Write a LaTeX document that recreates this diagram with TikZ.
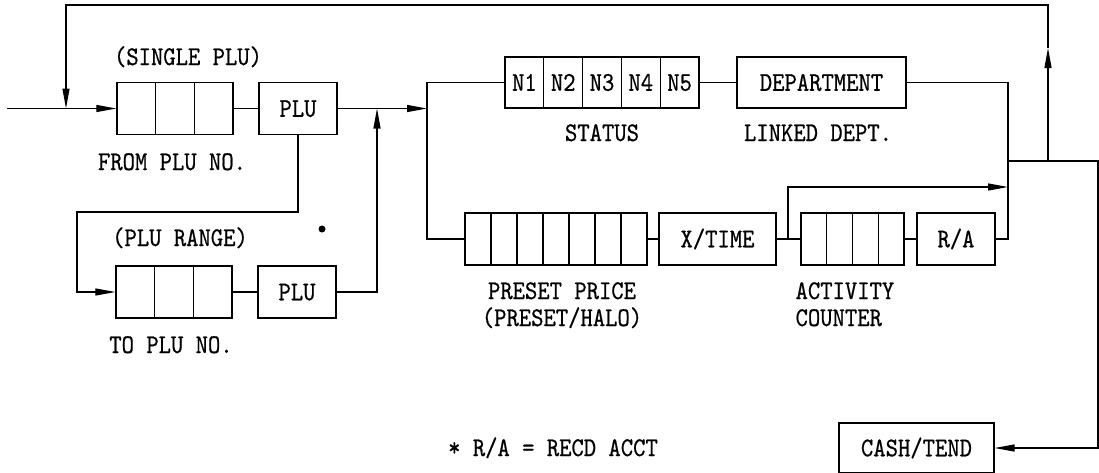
\documentclass[tikz,border=0pt]{standalone}
\usepackage{fontspec}
\setmonofont{lmmono10-regular.otf}[FakeStretch=0.87,FakeBold=0.6]
\usetikzlibrary{arrows.meta}
\begin{document}
\begin{tikzpicture}[x=1pt,y=-1pt,line width=1.2pt,
  txt/.style={font=\ttfamily\fontsize{27}{27}\selectfont},
  bx/.style={draw,txt,inner sep=0pt,minimum height=52pt,text height=16.5pt,text depth=0pt},
  cell/.style={bx,minimum width=#1},
  lbl/.style={txt,inner sep=0pt,anchor=base},
  arr/.style={-{Triangle[length=20pt,width=7pt]}}]
\clip (0,0) rectangle (1099,472);
% single PLU row
\node[cell=38.67pt] (s1) at (136.33,108.5) {};
\node[cell=38.67pt] (s2) at (175,108.5) {};
\node[cell=38.67pt] (s3) at (213.67,108.5) {};
\node[cell=78pt] (p1) at (298,108.5) {PLU};
% PLU range row
\node[cell=38.67pt] (r1) at (135.33,292) {};
\node[cell=38.67pt] (r2) at (174,292) {};
\node[cell=38.67pt] (r3) at (212.67,292) {};
\node[cell=78pt] (p2) at (297,292) {PLU};
% status row
\node[cell=38.8pt,minimum height=51pt] (n1) at (524.4,82.5) {N1};
\node[cell=38.8pt,minimum height=51pt] (n2) at (563.2,82.5) {N2};
\node[cell=38.8pt,minimum height=51pt] (n3) at (602,82.5) {N3};
\node[cell=38.8pt,minimum height=51pt] (n4) at (640.8,82.5) {N4};
\node[cell=38.8pt,minimum height=51pt] (n5) at (679.6,82.5) {N5};
\node[cell=169pt,minimum height=51pt] (dep) at (821.5,82.5) {DEPARTMENT};
% preset row
\node[cell=26pt] (q1) at (478,239) {};
\node[cell=26pt] (q2) at (504,239) {};
\node[cell=26pt] (q3) at (530,239) {};
\node[cell=26pt] (q4) at (556,239) {};
\node[cell=26pt] (q5) at (582,239) {};
\node[cell=26pt] (q6) at (608,239) {};
\node[cell=26pt] (q7) at (634,239) {};
\node[cell=117pt] (xt) at (717.5,239) {X/TIME};
\node[cell=25.75pt] (a1) at (813.9,239) {};
\node[cell=25.75pt] (a2) at (839.6,239) {};
\node[cell=25.75pt] (a3) at (865.4,239) {};
\node[cell=25.75pt] (a4) at (891.1,239) {};
\node[cell=78pt] (ra) at (956,239) {R/A};
\node[cell=155pt,minimum height=50pt] (cash) at (916.5,448) {CASH/TEND};
% labels
\node[lbl] (l1) at (188,65) {(SINGLE PLU)};
\node[lbl] (l2) at (172,170) {FROM PLU NO.};
\node[lbl] (l3) at (180,246) {(PLU RANGE)};
\node[lbl] (l4) at (171,353) {TO PLU NO.};
\node[lbl] (l5) at (602,141) {STATUS};
\node[lbl] (l6) at (818,141) {LINKED DEPT.};
\node[lbl] (l7) at (562,299) {PRESET PRICE};
\node[lbl] (l8) at (562,326) {(PRESET/HALO)};
\node[lbl,anchor=base west] (l9) at (795,299) {ACTIVITY};
\node[lbl,anchor=base west] (l10) at (795,326) {COUNTER};
\node[lbl] (l11) at (553,456) {* R/A = RECD ACCT};
\fill (322,229) circle (3.5pt);
% coordinates
\coordinate (in) at (7,108.5);
\coordinate (j0) at (66,108.5);
\coordinate (tl) at (66,5);
\coordinate (j2) at (1048,161);
\coordinate (m1) at (1048,48);
\coordinate (k1) at (298,212);
\coordinate (k2) at (77,212);
\coordinate (mj) at (377,108.5);
\coordinate (split) at (427,108.5);
\coordinate (sa) at (427,82.5);
\coordinate (sb) at (427,239);
\coordinate (rj) at (1008,239);
\coordinate (j1) at (1008,161);
\coordinate (rc) at (1098,161);
\coordinate (bj) at (788,239);
\coordinate (bt) at (1008,187);
% connectors
\draw[arr] (in) -- (s1.west);
\draw[arr] (j2) -- (m1);
\draw[arr] (m1) |- (tl) -- (j0);
\draw (s3) -- (p1);
\draw[arr] (p1.east) -- (split);
\draw[arr] (p1.south) -- (k1) -- (k2) |- (r1.west);
\draw (r3) -- (p2);
\draw[arr] (p2.east) -| (mj);
\draw (n1.west) -- (sa) -- (sb) -- (q1.west);
\draw (n5) -- (dep);
\draw (dep.east) -| (rj) -- (ra.east);
\draw[arr] (j1) -- (rc) |- (cash.east);
\draw (q7) -- (xt);
\draw (xt) -- (a1);
\draw[arr] (bj) |- (bt);
\draw (a4) -- (ra);
\end{tikzpicture}
\end{document}
